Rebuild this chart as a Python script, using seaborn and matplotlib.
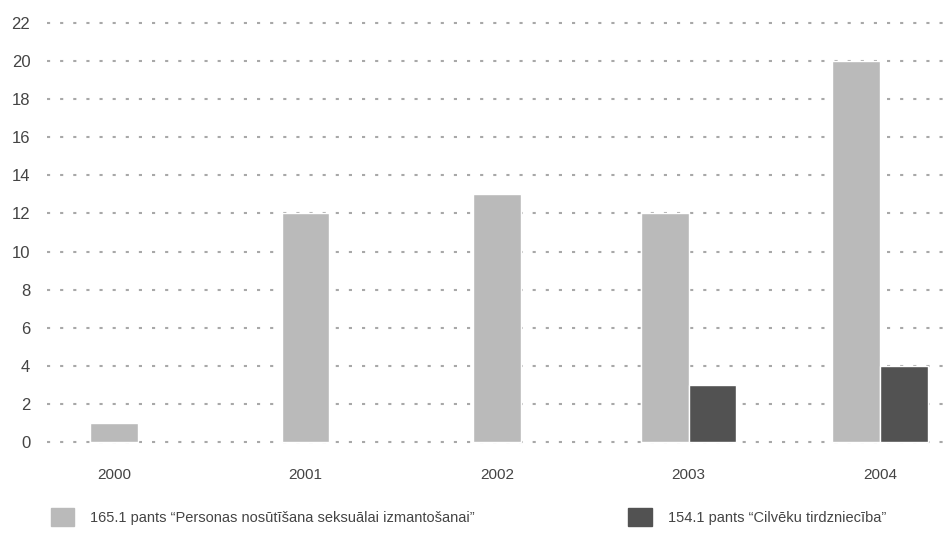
import matplotlib.pyplot as plt
import seaborn as sns
import pandas as pd
from matplotlib.patches import Patch

# Data
years = ['2000', '2001', '2002', '2003', '2004']
art_165 = [1, 12, 13, 12, 20]
art_154 = [0, 0, 0, 3, 4]
label_165 = '165.1 pants “Personas nosūtīšana seksuālai izmantošanai”'
label_154 = '154.1 pants “Cilvēku tirdzniecība”'
y_ticks = list(range(0, 23, 2))

sns.set_theme(style='white')
plt.rcParams['font.family'] = ['Liberation Sans', 'DejaVu Sans']

df = pd.DataFrame({
    'year': years * 2,
    'value': art_165 + art_154,
    'series': [label_165] * len(years) + [label_154] * len(years),
})

fig = plt.figure(figsize=(9.49, 5.33), dpi=100)
ax = fig.add_axes([47 / 949, 87.2 / 533, 1 - 47 / 949, 426.6 / 533])

sns.barplot(data=df, x='year', y='value', hue='series', dodge=True, width=0.5,
            palette=['#bababa', '#525252'], saturation=1, ax=ax, legend=False)

# where there is no second series, the light bar sits centred on the year
light = ax.patches[:len(years)]
dark = ax.patches[len(years):2 * len(years)]
for p, d, v in zip(light, dark, art_154):
    if v == 0:
        p.set_x(p.get_x() + p.get_width() / 2)
        d.set_visible(False)

ax.set_xlim(-0.35, 4.36)
ax.set_ylim(-0.2, 22.2)
ax.set_yticks(y_ticks)
ax.yaxis.grid(True, color='#a8a8a8', linestyle=(0, (1.5, 4.8)), linewidth=1.5)
ax.set_axisbelow(True)
for s in ax.spines.values():
    s.set_visible(False)
ax.tick_params(axis='both', length=0, colors='#444444')
ax.tick_params(axis='y', pad=12, labelsize=12)
ax.tick_params(axis='x', pad=16, labelsize=11)
ax.set_xlabel('')
ax.set_ylabel('')

handles = [Patch(color='#bababa'), Patch(color='#525252')]
fig.legend(handles, [label_165, label_154], loc='lower left', ncol=2,
           bbox_to_anchor=(38 / 949, -0.012), frameon=False, fontsize=10.5,
           handlelength=1.6, handleheight=1.5, handletextpad=1.1,
           columnspacing=10.5, labelcolor='#444444')

fig.savefig('out.png', dpi=100)
